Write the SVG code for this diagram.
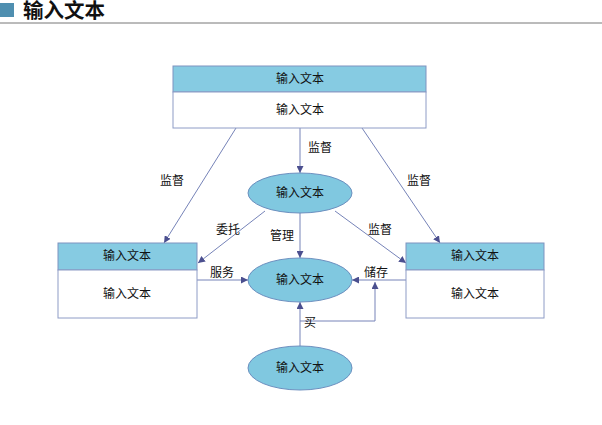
<svg xmlns="http://www.w3.org/2000/svg" width="602" height="425" viewBox="0 0 602 425">
<defs>
<style>
text{font-family:"Liberation Sans","Noto Sans CJK SC",sans-serif;font-size:12px;fill:#111;text-anchor:middle;dominant-baseline:central}
.hdr{fill:#86cbe2;stroke:#7f93c0;stroke-width:1}
.body{fill:#fff;stroke:#8e9cc6;stroke-width:1}
.ell{fill:#80c8e0;stroke:#6c8fbf;stroke-width:1}
.ln{fill:none;stroke:#7683b8;stroke-width:1}
.lbl{font-size:12px}
</style>
<marker id="ah" viewBox="0 0 10 10" refX="10" refY="5" markerWidth="7" markerHeight="7" orient="auto" markerUnits="userSpaceOnUse">
<path d="M0,0 L10,5 L0,10 z" fill="#4b4f8f"/>
</marker>
</defs>
<rect width="602" height="425" fill="#fff"/>
<g id="title">
<rect x="0" y="3" width="14" height="14" fill="#4f8fb0"/>
<text x="23" y="10" style="font-size:20.5px;font-weight:bold;text-anchor:start">输入文本</text>
<line x1="0" y1="23" x2="602" y2="23" stroke="#777" stroke-width="1"/>
</g>
<g id="connectors">
<line class="ln" x1="236" y1="128" x2="164" y2="243" marker-end="url(#ah)"/>
<line class="ln" x1="362" y1="128" x2="440" y2="243" marker-end="url(#ah)"/>
<line class="ln" x1="300" y1="128" x2="300" y2="173" marker-end="url(#ah)"/>
<line class="ln" x1="265" y1="211" x2="198" y2="263" marker-end="url(#ah)"/>
<line class="ln" x1="335" y1="211" x2="406" y2="263" marker-end="url(#ah)"/>
<line class="ln" x1="300" y1="213" x2="300" y2="258" marker-end="url(#ah)"/>
<line class="ln" x1="197" y1="280" x2="248" y2="280" marker-end="url(#ah)"/>
<line class="ln" x1="406" y1="280" x2="352" y2="280" marker-end="url(#ah)"/>
<line class="ln" x1="300" y1="346" x2="300" y2="302" marker-end="url(#ah)"/>
<polyline class="ln" points="300,321 375,321 375,282" marker-end="url(#ah)"/>
<text class="lbl" x="172" y="181">监督</text>
<text class="lbl" x="419" y="181">监督</text>
<text class="lbl" x="320" y="148">监督</text>
<text class="lbl" x="228" y="230">委托</text>
<text class="lbl" x="282" y="236">管理</text>
<text class="lbl" x="380" y="230">监督</text>
<text class="lbl" x="222" y="273">服务</text>
<text class="lbl" x="376" y="273">储存</text>
<text class="lbl" x="310" y="323">买</text>
</g>
<g id="top-box">
<rect class="hdr" x="173" y="66" width="253" height="26"/>
<rect class="body" x="173" y="92" width="253" height="36"/>
<text x="300" y="79">输入文本</text>
<text x="300" y="110">输入文本</text>
</g>
<g id="left-box">
<rect class="hdr" x="58" y="243" width="139" height="27"/>
<rect class="body" x="58" y="270" width="139" height="48"/>
<text x="127" y="256">输入文本</text>
<text x="127" y="294">输入文本</text>
</g>
<g id="right-box">
<rect class="hdr" x="406" y="243" width="138" height="27"/>
<rect class="body" x="406" y="270" width="138" height="48"/>
<text x="475" y="256">输入文本</text>
<text x="475" y="294">输入文本</text>
</g>
<g id="ellipse-mid">
<ellipse class="ell" cx="300" cy="193" rx="52" ry="20"/>
<text x="300" y="193">输入文本</text>
</g>
<g id="ellipse-center">
<ellipse class="ell" cx="300" cy="280" rx="52" ry="22"/>
<text x="300" y="280">输入文本</text>
</g>
<g id="ellipse-bottom">
<ellipse class="ell" cx="300" cy="368" rx="52" ry="22"/>
<text x="300" y="368">输入文本</text>
</g>
</svg>
